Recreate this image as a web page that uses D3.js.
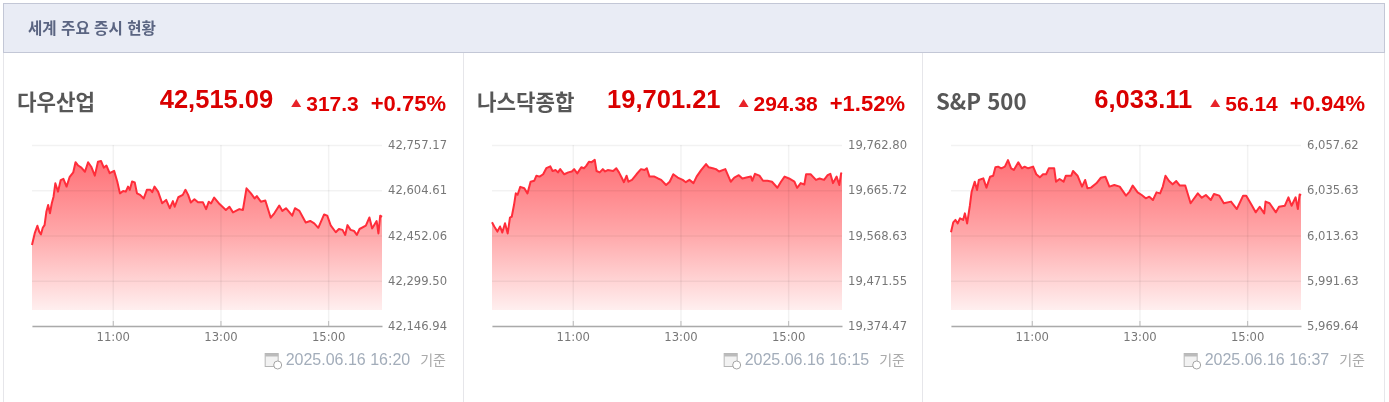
<!DOCTYPE html>
<html lang="ko">
<head>
<meta charset="utf-8">
<script src="https://cdn.jsdelivr.net/npm/d3@7"></script>
<style>
html,body{margin:0;padding:0;background:#fff}
svg{display:block;filter:blur(0.35px)}
text{font-family:"Liberation Sans",Arial,sans-serif}
.tick text{font-family:"DejaVu Sans",sans-serif;font-size:11.6px;fill:#777}
</style>
</head>
<body>
<svg id="chart" width="1389" height="402"></svg>
<script>
const pageTitle = "세계 주요 증시 현황";
const names = ["다우산업", "나스닥종합", "S&P 500"];
const prices = ["42,515.09", "19,701.21", "6,033.11"];
const changes = ["317.3", "294.38", "56.14"];
const percents = ["+0.75%", "+1.52%", "+0.94%"];
const stamps = ["2025.06.16 16:20", "2025.06.16 16:15", "2025.06.16 16:37"];
const timeTicks = [90, 210, 330];
const timeLabels = ["11:00", "13:00", "15:00"];

const dowTicks = [42757.17, 42604.61, 42452.06, 42299.50, 42146.94];
const nasdaqTicks = [19762.80, 19665.72, 19568.63, 19471.55, 19374.47];
const spTicks = [6057.62, 6035.63, 6013.63, 5991.63, 5969.64];

const dowMinutes = [0,3,6,8,10,12,14,16,18,20,22,24,26,29,32,35,38.5,42,46,48.5,51.5,55,59,62.5,66,70,73.5,77,80,83,86.5,91.5,95,98,101.5,104.5,107,109,111.5,114.5,117,120.5,124.5,128,132,134,136.5,140.5,145,149.5,153.5,157,159,163,168,171,174,177,181,185,190.5,194,197,199.5,203,209,216,220,224,231,235,239,244,248,250.5,255,260,266,270,275.5,279,283,290,293,298,301.5,305,310,314.5,319,325.5,329,333,338.5,342,346,349,351.5,355,359,362,365,372,376,379,384,386,388,390];
const dowValues = [42420,42459,42485,42465,42456,42478,42487,42532,42555,42527,42560,42583,42628,42600,42639,42643,42617,42650,42665,42699,42688,42681,42667,42699,42684,42654,42701,42703,42681,42688,42662,42670,42634,42594,42602,42600,42617,42606,42634,42631,42594,42589,42577,42606,42606,42598,42617,42600,42561,42572,42544,42568,42549,42581,42589,42606,42589,42563,42574,42564,42564,42541,42566,42560,42580,42558,42538,42549,42530,42541,42538,42611,42594,42577,42585,42566,42570,42512,42527,42553,42535,42544,42519,42544,42535,42515,42496,42501,42493,42478,42523,42519,42485,42463,42474,42471,42454,42487,42471,42467,42454,42474,42485,42513,42476,42501,42459,42519,42515];

const nasdaqMinutes = [0,2.5,6,9,11.5,14.5,17.5,20,22,24.5,26.5,28.5,31.5,36,39.5,43,47,49.5,53,57,60.5,65,67.5,71,73.5,76,80.5,85,89,91.5,95,99.5,102.5,105,108,111,114.5,116.5,120,123.5,126,129,135,138.5,141.5,145,147,150,152,156,161,166,170,172.5,175.5,181,185,188.5,194,198,202,207,212.5,216,220,224.5,228,233,238.5,241.5,246,249.5,253,260,266,270,275,279,283.5,288.5,290,293,298,302,307,312,318,322,326,331,337,340,344,348,350,355,361,365,370,374,377,380,384,387,389,390];
const nasdaqValues = [19597,19588,19577,19588,19575,19595,19573,19607,19609,19634,19659,19656,19673,19670,19659,19684,19686,19697,19695,19700,19713,19717,19707,19709,19704,19711,19700,19704,19706,19711,19702,19715,19713,19718,19727,19726,19731,19707,19704,19711,19706,19709,19707,19713,19704,19691,19683,19697,19684,19688,19700,19711,19709,19713,19695,19695,19691,19688,19677,19684,19700,19693,19688,19683,19688,19681,19695,19709,19722,19715,19713,19711,19706,19711,19684,19693,19698,19691,19693,19695,19686,19701,19697,19686,19686,19684,19671,19684,19695,19691,19684,19671,19681,19678,19700,19700,19688,19691,19688,19698,19701,19681,19695,19677,19702,19701];

const spMinutes = [0,2.5,5,7.5,10,13.5,15.5,18,21,23,26.5,29,31,36,39.5,43.5,47,49.5,52.5,56,60,63.5,67,70,75,79,82,86,91.5,95,99,102.5,106,109,115,117,121,125.5,128,134,136,141,146,149.5,152,156,162,167,172,176.5,182,188,195,199,202.5,208,212.5,217,221,225,229,233,236,239,243,247,251,255,261,267,275,279.5,284,289.5,293,299,304,312,318.5,325.5,329,335,339.5,344,349,350.5,355,362,365.5,372,376,379.5,384,386.5,388.5,390];
const spValues = [6015.2,6020.0,6021.2,6019.5,6022.0,6021.2,6024.4,6019.5,6028.1,6034.9,6039.8,6035.7,6040.6,6041.4,6036.9,6042.2,6042.7,6046.8,6047.1,6046.3,6047.1,6050.3,6046.3,6045.5,6049.2,6046.3,6047.1,6046.3,6047.1,6043.4,6041.9,6043.4,6043.4,6046.3,6046.3,6039.8,6041.1,6039.8,6042.7,6042.7,6045.0,6042.7,6037.4,6040.6,6036.6,6036.9,6039.0,6041.7,6042.2,6037.4,6038.2,6037.4,6033.0,6035.0,6037.9,6034.6,6033.3,6031.7,6032.5,6030.9,6034.6,6034.1,6037.4,6042.7,6040.1,6038.5,6040.1,6037.9,6037.9,6029.3,6034.1,6032.0,6033.3,6030.9,6033.8,6033.0,6029.3,6030.1,6026.5,6033.0,6033.0,6028.5,6024.9,6027.6,6024.4,6030.1,6029.3,6024.9,6027.6,6028.1,6032.2,6028.1,6032.2,6026.5,6033.6,6033.1];

const minutesList = [dowMinutes, nasdaqMinutes, spMinutes];
const valuesList = [dowValues, nasdaqValues, spValues];
const ticksList = [dowTicks, nasdaqTicks, spTicks];

const svg = d3.select("#chart");
const defs = svg.append("defs");

const fillGrad = defs.append("linearGradient").attr("id","areaFill").attr("gradientUnits","userSpaceOnUse")
  .attr("x1",0).attr("x2",0).attr("y1",158).attr("y2",311);
fillGrad.append("stop").attr("offset",0).attr("stop-color","#ff6f75");
fillGrad.append("stop").attr("offset",0.5).attr("stop-color","#ffa8aa");
fillGrad.append("stop").attr("offset",1).attr("stop-color","#fff0f0");

// header band and panel frame
svg.append("rect").attr("x",3.5).attr("y",52.5).attr("width",1381).attr("height",360)
  .attr("fill","#fff").attr("stroke","#e6e6ea");
svg.append("rect").attr("x",3.5).attr("y",3.5).attr("width",1381).attr("height",49)
  .attr("fill","#e9ecf5").attr("stroke","#c3c7d6");
svg.append("text").attr("x",28).attr("y",33.5).attr("font-size",15.6).attr("font-weight",700)
  .attr("fill","#5b6582").style("font-family","'Noto Sans CJK KR',sans-serif").text(pageTitle);
[463.5, 922.5].forEach(x => svg.append("line").attr("x1",x).attr("x2",x).attr("y1",53).attr("y2",402).attr("stroke","#e6e6ea"));

const plotLeft = [32, 492, 951];
const nameX = [17, 477, 936];
const rightEdge = [446, 905, 1365];
const plotWidth = 350, plotTop = 145, plotBottom = 326, areaBottom = 310;

names.forEach((name, i) => {
  const x = d3.scaleLinear().domain([0, 390]).range([plotLeft[i], plotLeft[i] + plotWidth]);
  const ticks = ticksList[i];
  const y = d3.scaleLinear().domain([ticks[4], ticks[0]]).range([plotBottom, plotTop]);
  const g = svg.append("g");
  const mins = minutesList[i], vals = valuesList[i];
  const pts = mins.map((m, k) => [m, vals[k]]);

  // area first so that the gridlines show through it
  g.append("path").datum(pts).attr("fill","url(#areaFill)")
    .attr("d", d3.area().x(d => x(d[0])).y0(areaBottom).y1(d => y(d[1])));

  // horizontal gridlines and value labels
  const yAxis = d3.axisRight(y).tickValues(ticks).tickFormat(d3.format(",.2f")).tickSize(plotWidth).tickPadding(6);
  const yg = g.append("g").attr("transform",`translate(${plotLeft[i]},0)`).call(yAxis);
  yg.select(".domain").remove();
  yg.selectAll(".tick line").attr("stroke","#000").attr("stroke-opacity",0.05).attr("stroke-width",1.5);
  yg.selectAll(".tick text").attr("dy","0.32em");

  // vertical gridlines and time labels
  const xAxis = d3.axisBottom(x).tickValues(timeTicks).tickFormat((d, k) => timeLabels[k]).tickSize(0).tickPadding(7);
  const xg = g.append("g").attr("transform",`translate(0,${plotBottom})`).call(xAxis);
  xg.select(".domain").attr("stroke","#aaa").attr("stroke-width",1.4);
  xg.selectAll(".tick").append("line").attr("y1",0).attr("y2",-(plotBottom-plotTop))
    .attr("stroke","#000").attr("stroke-opacity",0.05).attr("stroke-width",1.5);
  xg.selectAll(".tick").append("line").attr("y1",0).attr("y2",-5).attr("stroke","#bbb");
  xg.selectAll(".tick text").attr("dy","0.71em");

  // price line
  g.append("path").datum(pts).attr("fill","none").attr("stroke","#ff2d3a").attr("stroke-width",2)
    .attr("stroke-linejoin","round")
    .attr("d", d3.line().x(d => x(d[0])).y(d => y(d[1])));

  // heading row
  g.append("text").attr("x",nameX[i]).attr("y",110).attr("font-size",name.startsWith("S")?22.2:21.2)
    .attr("fill","#3a3a3a").style("font-family", "'Noto Sans CJK KR',sans-serif").attr("font-weight",700)
    .attr("fill-opacity",0.85).text(name);
  const pct = g.append("text").attr("x",rightEdge[i]).attr("y",111).attr("text-anchor","end")
    .attr("font-size",22).attr("font-weight",700).attr("fill","#e00000").text(percents[i]);
  const pctW = pct.node().getComputedTextLength();
  const chgEnd = rightEdge[i] - pctW - 12;
  const chg = g.append("text").attr("x",chgEnd).attr("y",111).attr("text-anchor","end")
    .attr("font-size",21).attr("font-weight",700).attr("fill","#e00000").text(changes[i]);
  const triRight = chgEnd - chg.node().getComputedTextLength() - 5;
  g.append("path").attr("fill","#e8242a")
    .attr("d",`M${triRight-10},107 L${triRight-5},99 L${triRight},107 Z`);
  g.append("text").attr("x",triRight-28).attr("y",108).attr("text-anchor","end")
    .attr("font-size",25.5).attr("font-weight",700).attr("fill","#d90000").text(prices[i]);

  // timestamp row
  const right = rightEdge[i];
  const kijun = g.append("text").attr("x",right).attr("y",365).attr("text-anchor","end")
    .attr("font-size",14).attr("fill","#aaa").style("font-family","'Noto Sans CJK KR',sans-serif").text("기준");
  const stampEnd = right - kijun.node().getComputedTextLength() - 10;
  const st = g.append("text").attr("x",stampEnd).attr("y",365).attr("text-anchor","end")
    .attr("font-size",16).attr("fill","#a3adba").text(stamps[i]);
  const ix = stampEnd - st.node().getComputedTextLength() - 21;
  const ic = g.append("g").attr("transform",`translate(${ix},353)`);
  ic.append("rect").attr("x",0.5).attr("y",0.5).attr("width",13).attr("height",13).attr("fill","#f2f2f2").attr("stroke","#b5b5b5");
  ic.append("rect").attr("x",0.5).attr("y",0.5).attr("width",13).attr("height",3).attr("fill","#bbb");
  ic.append("circle").attr("cx",13).attr("cy",12).attr("r",4).attr("fill","#fff").attr("stroke","#a5a5a5");
});
</script>
</body>
</html>
